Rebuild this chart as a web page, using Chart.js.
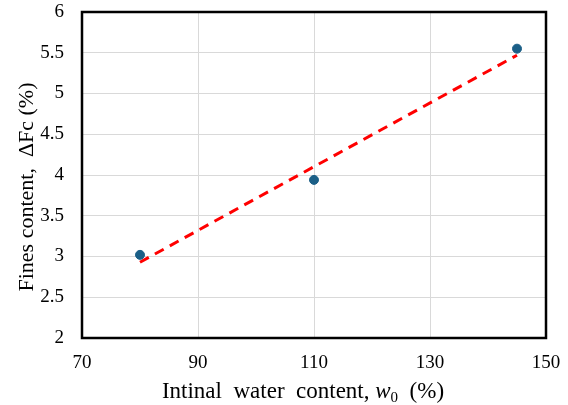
<!DOCTYPE html>
<html>
<head>
<meta charset="utf-8">
<script src="https://cdn.jsdelivr.net/npm/chart.js@4/dist/chart.umd.min.js"></script>
<style>
  html, body { margin: 0; padding: 0; background: #fff; }
  #wrap { width: 568px; height: 405px; }
</style>
</head>
<body>
<div id="wrap"><canvas id="chart" width="568" height="405"></canvas></div>
<script>
// measured points
const waterContent = [80, 110, 145];
const finesContent = [3.02, 3.94, 5.55];

// linear trend line end points
const trendX = [80, 145];
const trendY = [2.93, 5.47];

const xTicks = [70, 90, 110, 130, 150];
const yTicks = [2, 2.5, 3, 3.5, 4, 4.5, 5, 5.5, 6];

const serif = '"Liberation Serif", "Times New Roman", serif';

// frame around plot area + axis titles (x title has italic w and subscript 0)
const framePlugin = {
    id: 'frame',
    afterDraw(chart) {
        const ctx = chart.ctx;
        const a = chart.chartArea;
        ctx.save();
        ctx.strokeStyle = '#000';
        ctx.lineWidth = 2.5;
        ctx.strokeRect(a.left, a.top, a.right - a.left, a.bottom - a.top);

        // y title
        ctx.fillStyle = '#000';
        ctx.font = '22px ' + serif;
        ctx.textAlign = 'center';
        ctx.textBaseline = 'alphabetic';
        ctx.translate(33, 187);
        ctx.rotate(-Math.PI / 2);
        ctx.fillText('Fines content,  \u0394Fc (%)', 0, 0);
        ctx.restore();

        // x title
        ctx.save();
        ctx.fillStyle = '#000';
        ctx.textBaseline = 'alphabetic';
        ctx.textAlign = 'left';
        const parts = [
            { t: 'Intinal  water  content, ', f: '23px ' + serif, dy: 0 },
            { t: 'w', f: 'italic 23px ' + serif, dy: 0 },
            { t: '0', f: '15px ' + serif, dy: 4 },
            { t: '  (%)', f: '23px ' + serif, dy: 0 }
        ];
        let total = 0;
        parts.forEach(p => { ctx.font = p.f; p.w = ctx.measureText(p.t).width; total += p.w; });
        let x = 303 - total / 2;
        parts.forEach(p => {
            ctx.font = p.f;
            ctx.fillText(p.t, x, 398 + p.dy);
            x += p.w;
        });
        ctx.restore();
    }
};

new Chart(document.getElementById('chart'), {
    type: 'scatter',
    data: {
        datasets: [
            {
                label: 'Fines content',
                data: waterContent.map((v, i) => ({ x: v, y: finesContent[i] })),
                backgroundColor: '#1b5f87',
                borderColor: '#1b5f87',
                pointRadius: 4.5,
                order: 1
            },
            {
                label: 'Trend',
                type: 'line',
                data: trendX.map((v, i) => ({ x: v, y: trendY[i] })),
                borderColor: '#ff0000',
                borderWidth: 3,
                borderDash: [10, 7],
                pointRadius: 0,
                fill: false,
                order: 2
            }
        ]
    },
    options: {
        responsive: false,
        animation: false,
        layout: { padding: { top: 12, right: 22, bottom: 0, left: 0 } },
        plugins: {
            legend: { display: false },
            tooltip: { enabled: false }
        },
        scales: {
            x: {
                type: 'linear',
                min: xTicks[0],
                max: xTicks[xTicks.length - 1],
                afterBuildTicks(scale) { scale.ticks = xTicks.map(v => ({ value: v })); },
                afterFit(scale) {
                    scale.height = 67;
                    scale.paddingLeft = 0;
                    scale.paddingRight = 0;
                },
                grid: { color: '#d9d9d9', lineWidth: 1, drawTicks: false },
                border: { display: false },
                ticks: {
                    padding: 14,
                    color: '#000',
                    font: { family: serif, size: 19 },
                    callback: v => String(v)
                }
            },
            y: {
                type: 'linear',
                min: yTicks[0],
                max: yTicks[yTicks.length - 1],
                afterBuildTicks(scale) { scale.ticks = yTicks.map(v => ({ value: v })); },
                afterFit(scale) {
                    scale.width = 82;
                    scale.paddingTop = 0;
                    scale.paddingBottom = 0;
                },
                grid: { color: '#d9d9d9', lineWidth: 1, drawTicks: false },
                border: { display: false },
                ticks: {
                    padding: 18,
                    color: '#000',
                    font: { family: serif, size: 19 },
                    callback: v => String(v)
                }
            }
        }
    },
    plugins: [framePlugin]
});
</script>
</body>
</html>
